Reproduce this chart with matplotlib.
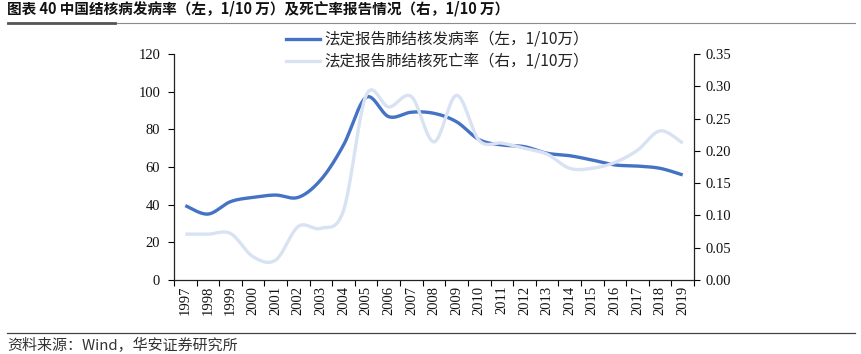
import matplotlib
matplotlib.use("Agg")
import matplotlib.pyplot as plt
from matplotlib.lines import Line2D
import numpy as np

years = [str(y) for y in range(1997, 2020)]
# incidence, left axis (1/10万)
incidence = [39.5, 35.0, 41.6, 43.9, 45.1, 43.9, 53.3, 71.7, 97.0, 86.7, 89.1, 88.5,
             84.0, 74.5, 71.7, 70.8, 67.3, 66.0, 63.7, 61.1, 60.5, 59.3, 55.8]
# mortality, right axis (1/10万)
mortality = [0.071, 0.071, 0.072, 0.036, 0.031, 0.083, 0.080, 0.108, 0.286, 0.268, 0.284, 0.214,
             0.286, 0.216, 0.212, 0.204, 0.195, 0.173, 0.173, 0.182, 0.201, 0.231, 0.212]

label_inc = "法定报告肺结核发病率（左，1/10万）"
label_mor = "法定报告肺结核死亡率（右，1/10万）"
title = "图表 40 中国结核病发病率（左，1/10 万）及死亡率报告情况（右，1/10 万）"
source = "资料来源：Wind，华安证券研究所"

cjk = ["Noto Sans CJK SC", "DejaVu Sans"]
serif = "Liberation Serif"


def smooth(x, y, n=24):
    # excel-style smoothed line (catmull-rom as bezier)
    p = np.column_stack([x, y]).astype(float)
    out = []
    for i in range(len(p) - 1):
        p0 = p[i - 1] if i > 0 else p[i]
        p1, p2 = p[i], p[i + 1]
        p3 = p[i + 2] if i + 2 < len(p) else p[i + 1]
        c1 = p1 + (p2 - p0) / 6
        c2 = p2 - (p3 - p1) / 6
        t = np.linspace(0, 1, n)[:, None]
        seg = (1 - t) ** 3 * p1 + 3 * (1 - t) ** 2 * t * c1 + 3 * (1 - t) * t ** 2 * c2 + t ** 3 * p2
        out.append(seg if i == 0 else seg[1:])
    s = np.vstack(out)
    return s[:, 0], s[:, 1]


fig = plt.figure(figsize=(8.62, 3.54), dpi=100)
ax = fig.add_axes([174 / 862, 1 - 280 / 354, 520 / 862, 226 / 354])
ax2 = ax.twinx()

x = np.arange(len(years))
blue = "#4472C4"
light = "#D9E2F3"

xs, ys = smooth(x, incidence)
ax.plot(xs, ys, color=blue, lw=2.4, solid_capstyle="butt")
xs2, ys2 = smooth(x, mortality)
ax2.plot(xs2, ys2, color=light, lw=2.4, solid_capstyle="butt")

ax.set_xlim(-0.5, len(years) - 0.5)
ax.set_ylim(0, 120)
ax.set_yticks(range(0, 121, 20))
ax2.set_ylim(0, 0.35)
ax2.set_yticks(np.arange(0, 0.351, 0.05))
ax2.set_yticklabels([f"{v:.2f}" for v in np.arange(0, 0.351, 0.05)])

ax.set_xticks(np.arange(-0.5, len(years), 1), minor=False)
ax.set_xticklabels([])
ax.set_xticks(x, minor=True)
ax.set_xticklabels(years, minor=True, rotation=90)
ax.tick_params(axis="x", which="minor", length=0, pad=4)
ax.tick_params(axis="x", which="major", length=4, direction="out", width=0.8)

for a in (ax, ax2):
    a.spines["top"].set_visible(False)
    for s in a.spines.values():
        s.set_linewidth(0.9)
        s.set_color("#222222")
ax.spines["right"].set_visible(False)
ax2.spines["left"].set_visible(False)
ax2.spines["bottom"].set_visible(False)

ax.tick_params(axis="y", length=4, width=0.8, pad=6)
ax2.tick_params(axis="y", length=4, width=0.8, pad=4)

for lab in ax.get_yticklabels() + ax2.get_yticklabels() + ax.get_xticklabels(minor=True):
    lab.set_fontfamily(serif)
    lab.set_fontsize(10.5)
    lab.set_color("#111111")

handles = [Line2D([], [], color=blue, lw=2.4), Line2D([], [], color=light, lw=2.4)]
leg = fig.legend(handles, [label_inc, label_mor], loc="upper left",
                 bbox_to_anchor=(275 / 862, 1 - 21 / 354), frameon=False,
                 prop={"family": cjk, "size": 11.2}, handlelength=2.2,
                 handletextpad=0.3, labelspacing=0.3, borderpad=0.2)
for t in leg.get_texts():
    t.set_color("#222222")

fig.text(7 / 862, 1 - 9 / 354, title, ha="left", va="center", fontsize=10.5,
         fontweight="bold", family=cjk, color="#111111")
fig.add_artist(Line2D([7 / 862, 855 / 862], [1 - 22.5 / 354] * 2, color="#8c8c8c", lw=0.8))
fig.add_artist(Line2D([8 / 862, 115 / 862], [1 - 22.5 / 354] * 2, color="#555555", lw=2))
fig.add_artist(Line2D([7 / 862, 855 / 862], [1 - 333 / 354] * 2, color="#444444", lw=0.9))
fig.text(7 / 862, 1 - 345 / 354, source, ha="left", va="center", fontsize=10.8,
         family=cjk, color="#333333")

fig.savefig("out.png", dpi=100)
